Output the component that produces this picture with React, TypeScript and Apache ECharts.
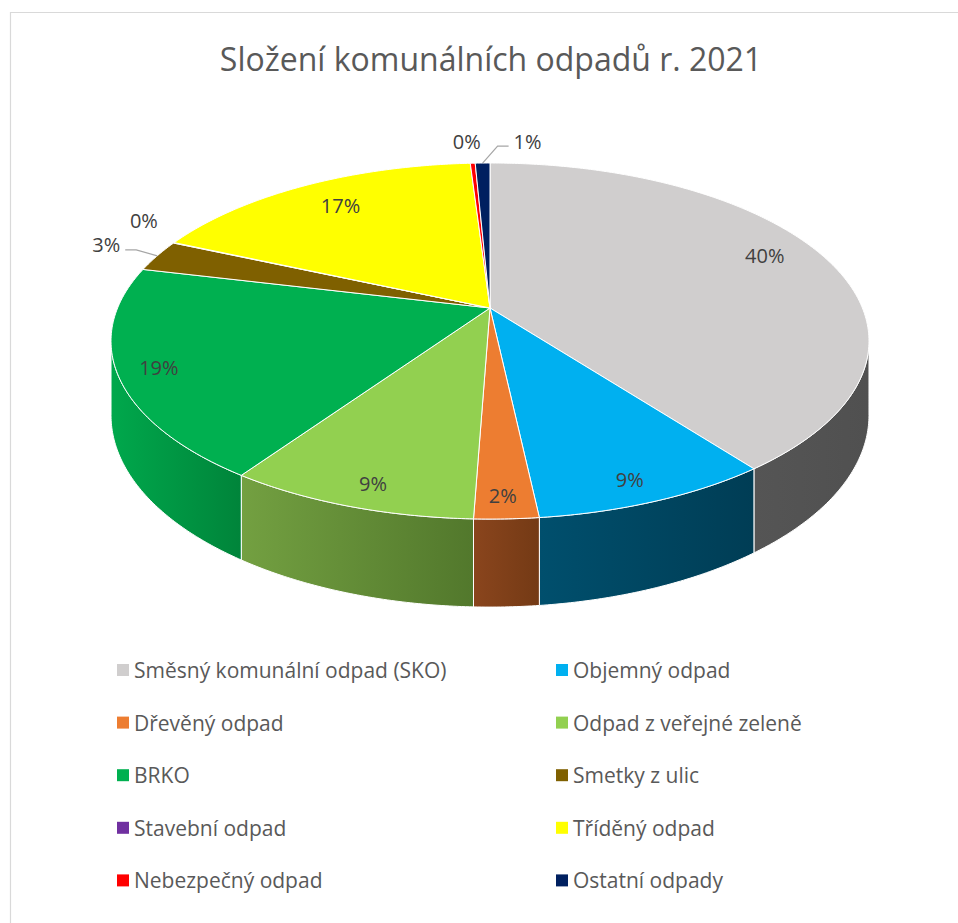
import React, { useEffect, useRef } from "react";
import * as echarts from "echarts";

const TITLE = "Složení komunálních odpadů r. 2021";
const CATEGORIES = [
  "Směsný komunální odpad (SKO)",
  "Objemný odpad",
  "Dřevěný odpad",
  "Odpad z veřejné zeleně",
  "BRKO",
  "Smetky z ulic",
  "Stavební odpad",
  "Tříděný odpad",
  "Nebezpečný odpad",
  "Ostatní odpady",
];
const VALUES = [39.7, 8.6, 2.3, 9.0, 19.2, 2.9, 0.05, 17.3, 0.25, 0.75];

// styles (kept apart from the data)
const COLORS = ["#D0CECE", "#00B0F0", "#ED7D31", "#92D050", "#00B050", "#7F6000", "#7030A0", "#FFFF00", "#FF0000", "#002060"];
const SIDE_LIGHT = ["#555555", "#004F6D", "#8A451D", "#73A041", "#00A84C", "#5E4700", "#52237A", "#BDBD00", "#BB0000", "#001545"];
const SIDE_DARK = ["#505050", "#003D55", "#743A15", "#52782C", "#00843A", "#4A3800", "#411B61", "#9A9A00", "#990000", "#00102F"];
const LABEL_OUTSIDE = [false, false, false, false, false, true, true, false, true, true];
const LABEL_LINE = [false, false, false, false, false, true, false, false, false, true];
const LABEL_SHIFT = [[-9, -8], [-8, 0], [-2, -1], [9, -1], [-7, 2], [-51, -11], [-30, -22], [5, 0], [-6, -22], [45, -22]];

const FONT = "'Open Sans', Lato, sans-serif";

// projection parameters of the tilted disc
const CX = 490;
const CY = 308;
const RX = 372.4;
const RY = 171.9;
const K = 0.1855;
const DEPTH = 71.7;

const TOTAL = VALUES.reduce((a, b) => a + b, 0);
const STARTS: number[] = [];
const ENDS: number[] = [];
{
  let acc = 0;
  VALUES.forEach((v) => {
    STARTS.push((acc / TOTAL) * 360);
    acc += v;
    ENDS.push((acc / TOTAL) * 360);
  });
}
const FRONT0 = 90 + (Math.asin(K) * 180) / Math.PI;
const FRONT1 = 270 - (Math.asin(K) * 180) / Math.PI;

function proj(deg: number, r: number, h: number): [number, number] {
  const t = (deg * Math.PI) / 180;
  const u = r * Math.sin(t);
  const v = -r * Math.cos(t);
  const s = 1 / (1 - K * v);
  return [CX + RX * u * s, CY + RY * v * s + h * DEPTH * s];
}

function arcPts(a0: number, a1: number, h: number): [number, number][] {
  const n = Math.max(2, Math.ceil((a1 - a0) / 0.5) + 1);
  const pts: [number, number][] = [];
  for (let j = 0; j < n; j++) {
    pts.push(proj(a0 + ((a1 - a0) * j) / (n - 1), 1, h));
  }
  return pts;
}

function makeRender(i: number) {
  return () => {
    const a0 = STARTS[i];
    const a1 = ENDS[i];
    const children: any[] = [];
    const w0 = Math.max(a0, FRONT0);
    const w1 = Math.min(a1, FRONT1);
    if (w1 > w0) {
      const top = arcPts(w0, w1, 0);
      const bot = arcPts(w0, w1, 1).reverse();
      children.push({
        type: "polygon",
        z2: 1,
        shape: { points: top.concat(bot) },
        style: {
          fill: {
            type: "linear",
            x: 0,
            y: 0,
            x2: 1,
            y2: 0,
            colorStops: [
              { offset: 0, color: SIDE_LIGHT[i] },
              { offset: 1, color: SIDE_DARK[i] },
            ],
          },
          stroke: "#FFFFFF",
          lineWidth: 1,
        },
      });
    }
    children.push({
      type: "polygon",
      z2: 10,
      shape: { points: [proj(0, 0, 0)].concat(arcPts(a0, a1, 0)) },
      style: { fill: COLORS[i], stroke: "#FFFFFF", lineWidth: 1 },
    });

    const mid = (a0 + a1) / 2;
    const pct = Math.round((VALUES[i] / TOTAL) * 100) + "%";
    let lx: number;
    let ly: number;
    if (LABEL_OUTSIDE[i]) {
      const [ax, ay] = proj(mid, 1, 0);
      lx = ax + LABEL_SHIFT[i][0];
      ly = ay + LABEL_SHIFT[i][1];
      if (LABEL_LINE[i]) {
        const dir = ax > lx ? 1 : -1;
        const sx = lx + dir * 19;
        const ex = sx + dir * 11;
        children.push({
          type: "polyline",
          z2: 20,
          shape: { points: [[sx, ly + 5], [ex, ly + 5], [ax, ay]] },
          style: { stroke: "#A6A6A6", lineWidth: 1.2, fill: null },
        });
      }
    } else {
      const vMid = -Math.cos((mid * Math.PI) / 180);
      const f = 0.86 + 0.05 * vMid;
      const p = proj(mid, f, 0);
      lx = p[0] + LABEL_SHIFT[i][0];
      ly = p[1] + LABEL_SHIFT[i][1];
    }
    children.push({
      type: "text",
      z2: 20,
      x: lx,
      y: ly,
      style: {
        text: pct,
        fill: "#404040",
        font: `20px ${FONT}`,
        align: "center",
        verticalAlign: "middle",
      },
    });
    return { type: "group", children };
  };
}

const legendCommon = {
  orient: "vertical",
  icon: "rect",
  itemWidth: 12,
  itemHeight: 12,
  itemGap: 28.6,
  padding: 0,
  top: 658,
  selectedMode: false,
  textStyle: { fontSize: 21, fontFamily: FONT, color: "#595959", lineHeight: 24 },
};

export default function App() {
  const ref = useRef<HTMLDivElement>(null);
  useEffect(() => {
    document.body.style.margin = "0";
    document.body.style.overflow = "hidden";
    const chart = echarts.init(ref.current!, null, { renderer: "svg" });
    chart.setOption({
      animation: false,
      backgroundColor: "#FFFFFF",
      graphic: [
        {
          type: "rect",
          shape: { x: 10.5, y: 12.5, width: 1200, height: 1200 },
          style: { fill: "none", stroke: "#D9D9D9", lineWidth: 1.2 },
          silent: true,
        },
        {
          type: "text",
          x: 491,
          y: 58,
          style: {
            text: TITLE,
            fill: "#595959",
            font: `32px ${FONT}`,
            align: "center",
            verticalAlign: "middle",
          },
        },
      ],
      legend: [
        { ...legendCommon, left: 117, data: CATEGORIES.filter((_, i) => i % 2 === 0) },
        { ...legendCommon, left: 556, data: CATEGORIES.filter((_, i) => i % 2 === 1) },
      ],
      series: CATEGORIES.map((name, i) => ({
        type: "custom",
        name,
        coordinateSystem: "none",
        itemStyle: { color: COLORS[i] },
        data: [[VALUES[i]]],
        renderItem: makeRender(i),
      })),
    });
    return () => chart.dispose();
  }, []);
  return <div ref={ref} style={{ width: 958, height: 923 }} />;
}
